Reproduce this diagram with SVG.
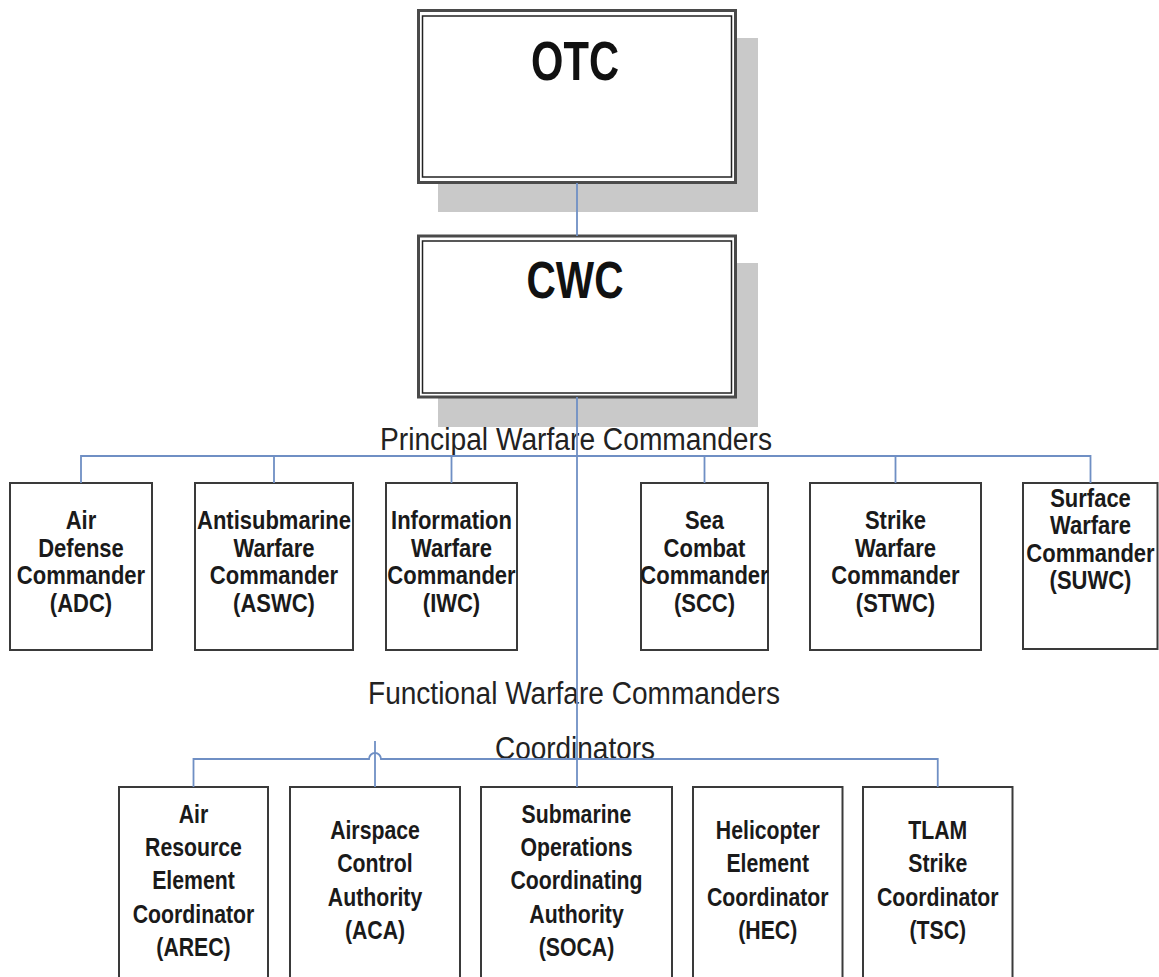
<svg xmlns="http://www.w3.org/2000/svg" width="1159" height="977" viewBox="0 0 1159 977">
  <style>
    .shadow { fill: #c9c9c9; stroke: none; }
    .outer { fill: #ffffff; stroke: #4a4a4a; stroke-width: 3; }
    .inner { fill: none; stroke: #222222; stroke-width: 1.5; }
    .box { fill: #ffffff; stroke: #3a3a3a; stroke-width: 2; }
    .big { font-family: "Liberation Sans", Arial, sans-serif; font-weight: bold; fill: #111111; text-anchor: middle; }
    .lbl { font-family: "Liberation Sans", Arial, sans-serif; font-weight: bold; font-size: 25px; fill: #1a1a1a; text-anchor: middle; }
    .tier { font-family: "Liberation Sans", Arial, sans-serif; font-size: 31px; fill: #222222; text-anchor: middle; }
    .conn { fill: none; stroke: #6f8fc4; stroke-width: 1.8; }
  </style>
  <rect width="1159" height="977" fill="#ffffff"/>

  <!-- top level commanders -->
  <g id="otc">
    <rect class="shadow" x="438" y="38" width="320" height="174"/>
    <rect class="outer" x="418.5" y="10.5" width="317" height="172"/>
    <rect class="inner" x="422.5" y="16" width="309" height="161"/>
    <text class="big" x="575" y="80" font-size="56" textLength="88" lengthAdjust="spacingAndGlyphs">OTC</text>
  </g>
  <g id="cwc">
    <rect class="shadow" x="438" y="263" width="320" height="164"/>
    <rect class="outer" x="418.5" y="236" width="317" height="161"/>
    <rect class="inner" x="422.5" y="241" width="309" height="152"/>
    <text class="big" x="575" y="298" font-size="51" textLength="97" lengthAdjust="spacingAndGlyphs">CWC</text>
  </g>

  <!-- tier captions -->
  <g id="captions">
    <text class="tier" x="576" y="450" textLength="392" lengthAdjust="spacingAndGlyphs">Principal Warfare Commanders</text>
    <text class="tier" x="574" y="704" textLength="412" lengthAdjust="spacingAndGlyphs">Functional Warfare Commanders</text>
    <text class="tier" x="575" y="759" textLength="160" lengthAdjust="spacingAndGlyphs">Coordinators</text>
  </g>

  <!-- principal warfare commanders (labels condensed horizontally) -->
  <g id="adc">
    <rect class="box" x="10" y="483" width="142" height="167"/>
    <text class="lbl" transform="matrix(0.88 0 0 1 81 0)"><tspan x="0" y="529">Air</tspan><tspan x="0" y="557">Defense</tspan><tspan x="0" y="584">Commander</tspan><tspan x="0" y="612">(ADC)</tspan></text>
  </g>
  <g id="aswc">
    <rect class="box" x="195" y="483" width="158" height="167"/>
    <text class="lbl" transform="matrix(0.88 0 0 1 274 0)"><tspan x="0" y="529">Antisubmarine</tspan><tspan x="0" y="557">Warfare</tspan><tspan x="0" y="584">Commander</tspan><tspan x="0" y="612">(ASWC)</tspan></text>
  </g>
  <g id="iwc">
    <rect class="box" x="386" y="483" width="131" height="167"/>
    <text class="lbl" transform="matrix(0.88 0 0 1 451.5 0)"><tspan x="0" y="529">Information</tspan><tspan x="0" y="557">Warfare</tspan><tspan x="0" y="584">Commander</tspan><tspan x="0" y="612">(IWC)</tspan></text>
  </g>
  <g id="scc">
    <rect class="box" x="641" y="483" width="127" height="167"/>
    <text class="lbl" transform="matrix(0.88 0 0 1 704.5 0)"><tspan x="0" y="529">Sea</tspan><tspan x="0" y="557">Combat</tspan><tspan x="0" y="584">Commander</tspan><tspan x="0" y="612">(SCC)</tspan></text>
  </g>
  <g id="stwc">
    <rect class="box" x="810" y="483" width="171" height="167"/>
    <text class="lbl" transform="matrix(0.88 0 0 1 895.5 0)"><tspan x="0" y="529">Strike</tspan><tspan x="0" y="557">Warfare</tspan><tspan x="0" y="584">Commander</tspan><tspan x="0" y="612">(STWC)</tspan></text>
  </g>
  <g id="suwc">
    <rect class="box" x="1023" y="483" width="134.5" height="166"/>
    <text class="lbl" transform="matrix(0.88 0 0 1 1090.5 0)"><tspan x="0" y="507">Surface</tspan><tspan x="0" y="534">Warfare</tspan><tspan x="0" y="562">Commander</tspan><tspan x="0" y="589">(SUWC)</tspan></text>
  </g>

  <!-- coordinators -->
  <g id="arec">
    <rect class="box" x="119" y="787" width="149" height="200"/>
    <text class="lbl" transform="matrix(0.85 0 0 1 193.5 0)"><tspan x="0" y="823">Air</tspan><tspan x="0" y="856">Resource</tspan><tspan x="0" y="889.5">Element</tspan><tspan x="0" y="923">Coordinator</tspan><tspan x="0" y="956.5">(AREC)</tspan></text>
  </g>
  <g id="aca">
    <rect class="box" x="290" y="787" width="170" height="200"/>
    <text class="lbl" transform="matrix(0.85 0 0 1 375 0)"><tspan x="0" y="839">Airspace</tspan><tspan x="0" y="872.5">Control</tspan><tspan x="0" y="906">Authority</tspan><tspan x="0" y="939.5">(ACA)</tspan></text>
  </g>
  <g id="soca">
    <rect class="box" x="481" y="787" width="191" height="200"/>
    <text class="lbl" transform="matrix(0.85 0 0 1 576.5 0)"><tspan x="0" y="823">Submarine</tspan><tspan x="0" y="856">Operations</tspan><tspan x="0" y="889.5">Coordinating</tspan><tspan x="0" y="923">Authority</tspan><tspan x="0" y="956.5">(SOCA)</tspan></text>
  </g>
  <g id="hec">
    <rect class="box" x="693" y="787" width="149.5" height="200"/>
    <text class="lbl" transform="matrix(0.85 0 0 1 767.75 0)"><tspan x="0" y="839">Helicopter</tspan><tspan x="0" y="872.5">Element</tspan><tspan x="0" y="906">Coordinator</tspan><tspan x="0" y="939.5">(HEC)</tspan></text>
  </g>
  <g id="tsc">
    <rect class="box" x="863" y="787" width="149.5" height="200"/>
    <text class="lbl" transform="matrix(0.85 0 0 1 937.75 0)"><tspan x="0" y="839">TLAM</tspan><tspan x="0" y="872.5">Strike</tspan><tspan x="0" y="906">Coordinator</tspan><tspan x="0" y="939.5">(TSC)</tspan></text>
  </g>

  <!-- connector lines -->
  <g id="connectors">
    <path class="conn" d="M577 183 V236"/>
    <path class="conn" d="M577 397 V787"/>
    <path class="conn" d="M81 483 V456 H1090.5 V483"/>
    <path class="conn" d="M274 456 V483 M451.5 456 V483 M704.5 456 V483 M895.5 456 V483"/>
    <path class="conn" d="M193.5 787 V759 H369 A6 6 0 0 1 381 759 H937.75 V787"/>
    <path class="conn" d="M375 741 V787"/>
  </g>
</svg>
